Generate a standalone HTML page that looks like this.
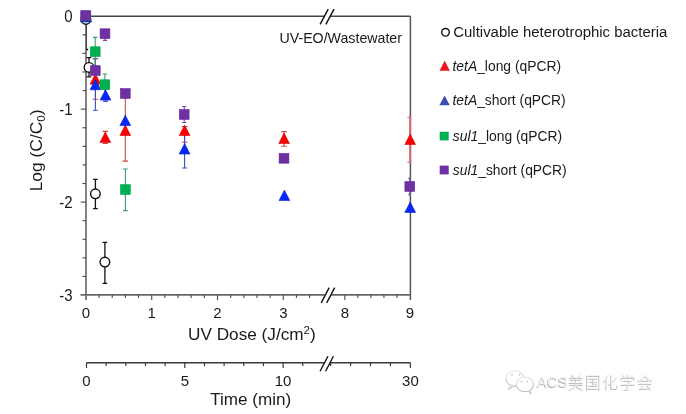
<!DOCTYPE html><html><head><meta charset="utf-8"><title>UV-EO/Wastewater</title><style>
html,body{margin:0;padding:0;background:#fff;width:686px;height:414px;overflow:hidden;position:relative}
svg{display:block;will-change:transform}
text{font-family:'Liberation Sans', Arial, sans-serif;fill:#1a1a1a}
.wm{font-family:"Liberation Sans","Noto Sans CJK SC",sans-serif}
</style></head><body>
<svg width="686" height="414" viewBox="0 0 686 414">
<g fill="none">
<line x1="86.0" y1="16.3" x2="86.0" y2="300.09999999999997" stroke="#6c6c6c" stroke-width="1.7"/>
<line x1="86.0" y1="16.3" x2="324.2" y2="16.3" stroke="#464646" stroke-width="1.5"/>
<line x1="330.0" y1="16.3" x2="410.4" y2="16.3" stroke="#464646" stroke-width="1.5"/>
<line x1="410.4" y1="16.3" x2="410.4" y2="300.09999999999997" stroke="#555" stroke-width="1.5"/>
<line x1="80.5" y1="294.9" x2="324.6" y2="294.9" stroke="#686868" stroke-width="1.7"/>
<line x1="331.4" y1="294.9" x2="410.4" y2="294.9" stroke="#686868" stroke-width="1.7"/>
</g>
<g stroke="#111" stroke-width="1.4" fill="none">
<line x1="320.10" y1="24.30" x2="328.20" y2="9.10"/><line x1="325.90" y1="24.30" x2="334.00" y2="9.10"/>
<line x1="321.20" y1="302.80" x2="329.20" y2="287.60"/><line x1="326.70" y1="302.80" x2="334.70" y2="287.60"/>
</g>
<g stroke="#505050" stroke-width="1.15">
<line x1="80.8" y1="16.20" x2="86.0" y2="16.20"/>
<line x1="82.4" y1="34.79" x2="86.0" y2="34.79"/>
<line x1="82.4" y1="53.38" x2="86.0" y2="53.38"/>
<line x1="82.4" y1="71.97" x2="86.0" y2="71.97"/>
<line x1="82.4" y1="90.56" x2="86.0" y2="90.56"/>
<line x1="80.8" y1="109.15" x2="86.0" y2="109.15"/>
<line x1="82.4" y1="127.74" x2="86.0" y2="127.74"/>
<line x1="82.4" y1="146.33" x2="86.0" y2="146.33"/>
<line x1="82.4" y1="164.92" x2="86.0" y2="164.92"/>
<line x1="82.4" y1="183.51" x2="86.0" y2="183.51"/>
<line x1="80.8" y1="202.10" x2="86.0" y2="202.10"/>
<line x1="82.4" y1="220.69" x2="86.0" y2="220.69"/>
<line x1="82.4" y1="239.28" x2="86.0" y2="239.28"/>
<line x1="82.4" y1="257.87" x2="86.0" y2="257.87"/>
<line x1="82.4" y1="276.46" x2="86.0" y2="276.46"/>
<line x1="99.06" y1="294.9" x2="99.06" y2="297.9"/>
<line x1="112.22" y1="294.9" x2="112.22" y2="297.9"/>
<line x1="125.38" y1="294.9" x2="125.38" y2="297.9"/>
<line x1="138.54" y1="294.9" x2="138.54" y2="297.9"/>
<line x1="151.70" y1="294.9" x2="151.70" y2="300.09999999999997"/>
<line x1="164.86" y1="294.9" x2="164.86" y2="297.9"/>
<line x1="178.02" y1="294.9" x2="178.02" y2="297.9"/>
<line x1="191.18" y1="294.9" x2="191.18" y2="297.9"/>
<line x1="204.34" y1="294.9" x2="204.34" y2="297.9"/>
<line x1="217.50" y1="294.9" x2="217.50" y2="300.09999999999997"/>
<line x1="230.66" y1="294.9" x2="230.66" y2="297.9"/>
<line x1="243.82" y1="294.9" x2="243.82" y2="297.9"/>
<line x1="256.98" y1="294.9" x2="256.98" y2="297.9"/>
<line x1="270.14" y1="294.9" x2="270.14" y2="297.9"/>
<line x1="283.30" y1="294.9" x2="283.30" y2="300.09999999999997"/>
<line x1="296.46" y1="294.9" x2="296.46" y2="297.9"/>
<line x1="309.62" y1="294.9" x2="309.62" y2="297.9"/>
<line x1="344.80" y1="294.9" x2="344.80" y2="300.09999999999997"/>
<line x1="357.84" y1="294.9" x2="357.84" y2="297.9"/>
<line x1="370.88" y1="294.9" x2="370.88" y2="297.9"/>
<line x1="383.92" y1="294.9" x2="383.92" y2="297.9"/>
<line x1="396.96" y1="294.9" x2="396.96" y2="297.9"/>
</g>
<g font-size="15" text-anchor="end">
<text transform="translate(72.7,22.3) scale(1,1.1)">0</text>
<text transform="translate(72.7,115.0) scale(1,1.1)">-1</text>
<text transform="translate(72.7,207.85) scale(1,1.1)">-2</text>
<text transform="translate(72.7,301.45) scale(1,1.1)">-3</text>
</g>
<g font-size="15" text-anchor="middle">
<text x="85.9" y="318.4">0</text>
<text x="151.7" y="318.4">1</text>
<text x="217.5" y="318.4">2</text>
<text x="283.3" y="318.4">3</text>
<text x="344.8" y="318.4">8</text>
<text x="410.0" y="318.4">9</text>
</g>
<text x="251.9" y="339.6" font-size="17.2" text-anchor="middle">UV Dose (J/cm<tspan font-size="11.5" dy="-5.2">2</tspan><tspan dy="5.2">)</tspan></text>
<text x="250.7" y="404.8" font-size="17.1" text-anchor="middle">Time (min)</text>
<text transform="translate(41.9,191.3) rotate(-90)" font-size="17.4">Log (C/C<tspan font-size="11.7" dy="3.5">0</tspan><tspan dy="-3.5">)</tspan></text>
<text x="279.5" y="43.1" font-size="14.2">UV-EO/Wastewater</text>
<g stroke="#3a3a3a" stroke-width="1.4" fill="none">
<line x1="86.5" y1="362.7" x2="324.0" y2="362.7"/>
<line x1="330.8" y1="362.7" x2="410.4" y2="362.7"/>
</g>
<g stroke="#3a3a3a" stroke-width="1.2">
<line x1="86.50" y1="362.7" x2="86.50" y2="368.0"/>
<line x1="106.16" y1="362.7" x2="106.16" y2="366.09999999999997"/>
<line x1="125.82" y1="362.7" x2="125.82" y2="366.09999999999997"/>
<line x1="145.48" y1="362.7" x2="145.48" y2="366.09999999999997"/>
<line x1="165.14" y1="362.7" x2="165.14" y2="366.09999999999997"/>
<line x1="184.80" y1="362.7" x2="184.80" y2="368.0"/>
<line x1="204.46" y1="362.7" x2="204.46" y2="366.09999999999997"/>
<line x1="224.12" y1="362.7" x2="224.12" y2="366.09999999999997"/>
<line x1="243.78" y1="362.7" x2="243.78" y2="366.09999999999997"/>
<line x1="263.44" y1="362.7" x2="263.44" y2="366.09999999999997"/>
<line x1="283.10" y1="362.7" x2="283.10" y2="368.0"/>
<line x1="302.76" y1="362.7" x2="302.76" y2="366.09999999999997"/>
<line x1="330.60" y1="362.7" x2="330.60" y2="366.09999999999997"/>
<line x1="350.55" y1="362.7" x2="350.55" y2="366.09999999999997"/>
<line x1="370.50" y1="362.7" x2="370.50" y2="366.09999999999997"/>
<line x1="390.45" y1="362.7" x2="390.45" y2="366.09999999999997"/>
<line x1="410.40" y1="362.7" x2="410.40" y2="368.0"/>
</g>
<g stroke="#111" stroke-width="1.4" fill="none">
<line x1="320.10" y1="371.20" x2="327.90" y2="356.20"/><line x1="325.60" y1="371.20" x2="333.40" y2="356.20"/>
</g>
<g font-size="15" text-anchor="middle">
<text x="86.5" y="385.8">0</text>
<text x="184.8" y="385.8">5</text>
<text x="283.1" y="385.8">10</text>
<text x="410.4" y="385.8">30</text>
</g>
<defs><clipPath id="pc"><rect x="86.0" y="16.3" width="324.4" height="278.59999999999997"/></clipPath></defs>
<g clip-path="url(#pc)">
<line x1="85.90" y1="-11.00" x2="85.90" y2="49.50" stroke="#111" stroke-width="1.3"/><line x1="83.60" y1="-11.00" x2="88.20" y2="-11.00" stroke="#111" stroke-width="1.3"/><line x1="83.60" y1="49.50" x2="88.20" y2="49.50" stroke="#111" stroke-width="1.3"/>
<line x1="89.00" y1="57.60" x2="89.00" y2="76.80" stroke="#111" stroke-width="1.3"/><line x1="86.70" y1="57.60" x2="91.30" y2="57.60" stroke="#111" stroke-width="1.3"/><line x1="86.70" y1="76.80" x2="91.30" y2="76.80" stroke="#111" stroke-width="1.3"/>
<line x1="95.40" y1="179.30" x2="95.40" y2="208.60" stroke="#111" stroke-width="1.3"/><line x1="93.10" y1="179.30" x2="97.70" y2="179.30" stroke="#111" stroke-width="1.3"/><line x1="93.10" y1="208.60" x2="97.70" y2="208.60" stroke="#111" stroke-width="1.3"/>
<line x1="104.90" y1="242.30" x2="104.90" y2="283.40" stroke="#111" stroke-width="1.3"/><line x1="102.60" y1="242.30" x2="107.20" y2="242.30" stroke="#111" stroke-width="1.3"/><line x1="102.60" y1="283.40" x2="107.20" y2="283.40" stroke="#111" stroke-width="1.3"/>
<line x1="95.40" y1="58.70" x2="95.40" y2="99.30" stroke="#d04848" stroke-width="1.1"/><line x1="92.60" y1="58.70" x2="98.20" y2="58.70" stroke="#d04848" stroke-width="1.1"/><line x1="92.60" y1="99.30" x2="98.20" y2="99.30" stroke="#d04848" stroke-width="1.1"/>
<line x1="105.30" y1="131.40" x2="105.30" y2="143.50" stroke="#d04848" stroke-width="1.1"/><line x1="102.50" y1="131.40" x2="108.10" y2="131.40" stroke="#d04848" stroke-width="1.1"/><line x1="102.50" y1="143.50" x2="108.10" y2="143.50" stroke="#d04848" stroke-width="1.1"/>
<line x1="125.30" y1="97.50" x2="125.30" y2="161.10" stroke="#d04848" stroke-width="1.1"/><line x1="122.50" y1="97.50" x2="128.10" y2="97.50" stroke="#d04848" stroke-width="1.1"/><line x1="122.50" y1="161.10" x2="128.10" y2="161.10" stroke="#d04848" stroke-width="1.1"/>
<line x1="184.60" y1="126.50" x2="184.60" y2="142.20" stroke="#d04848" stroke-width="1.1"/><line x1="181.80" y1="126.50" x2="187.40" y2="126.50" stroke="#d04848" stroke-width="1.1"/><line x1="181.80" y1="142.20" x2="187.40" y2="142.20" stroke="#d04848" stroke-width="1.1"/>
<line x1="284.10" y1="131.60" x2="284.10" y2="146.30" stroke="#d04848" stroke-width="1.1"/><line x1="281.30" y1="131.60" x2="286.90" y2="131.60" stroke="#d04848" stroke-width="1.1"/><line x1="281.30" y1="146.30" x2="286.90" y2="146.30" stroke="#d04848" stroke-width="1.1"/>
<line x1="409.90" y1="117.20" x2="409.90" y2="162.30" stroke="#d86a72" stroke-width="1.1"/><line x1="407.40" y1="117.20" x2="412.40" y2="117.20" stroke="#d86a72" stroke-width="1.1"/><line x1="407.40" y1="162.30" x2="412.40" y2="162.30" stroke="#d86a72" stroke-width="1.1"/>
<line x1="95.40" y1="58.70" x2="95.40" y2="110.30" stroke="#3a4cc8" stroke-width="1.1"/><line x1="92.90" y1="58.70" x2="97.90" y2="58.70" stroke="#3a4cc8" stroke-width="1.1"/><line x1="92.90" y1="110.30" x2="97.90" y2="110.30" stroke="#3a4cc8" stroke-width="1.1"/>
<line x1="105.50" y1="89.00" x2="105.50" y2="101.40" stroke="#3a4cc8" stroke-width="1.1"/><line x1="103.00" y1="89.00" x2="108.00" y2="89.00" stroke="#3a4cc8" stroke-width="1.1"/><line x1="103.00" y1="101.40" x2="108.00" y2="101.40" stroke="#3a4cc8" stroke-width="1.1"/>
<line x1="184.60" y1="130.00" x2="184.60" y2="168.00" stroke="#3a4cc8" stroke-width="1.1"/><line x1="182.10" y1="130.00" x2="187.10" y2="130.00" stroke="#3a4cc8" stroke-width="1.1"/><line x1="182.10" y1="168.00" x2="187.10" y2="168.00" stroke="#3a4cc8" stroke-width="1.1"/>
<line x1="95.20" y1="37.40" x2="95.20" y2="66.00" stroke="#3a9a72" stroke-width="1.1"/><line x1="92.90" y1="37.40" x2="97.50" y2="37.40" stroke="#3a9a72" stroke-width="1.1"/><line x1="92.90" y1="66.00" x2="97.50" y2="66.00" stroke="#3a9a72" stroke-width="1.1"/>
<line x1="104.90" y1="74.00" x2="104.90" y2="95.50" stroke="#3a9a72" stroke-width="1.1"/><line x1="102.60" y1="74.00" x2="107.20" y2="74.00" stroke="#3a9a72" stroke-width="1.1"/><line x1="102.60" y1="95.50" x2="107.20" y2="95.50" stroke="#3a9a72" stroke-width="1.1"/>
<line x1="125.40" y1="169.00" x2="125.40" y2="210.60" stroke="#3a9a72" stroke-width="1.1"/><line x1="123.10" y1="169.00" x2="127.70" y2="169.00" stroke="#3a9a72" stroke-width="1.1"/><line x1="123.10" y1="210.60" x2="127.70" y2="210.60" stroke="#3a9a72" stroke-width="1.1"/>
<line x1="105.00" y1="33.70" x2="105.00" y2="40.40" stroke="#7444a4" stroke-width="1.1"/><line x1="102.90" y1="33.70" x2="107.10" y2="33.70" stroke="#7444a4" stroke-width="1.1"/><line x1="102.90" y1="40.40" x2="107.10" y2="40.40" stroke="#7444a4" stroke-width="1.1"/>
<line x1="184.20" y1="106.50" x2="184.20" y2="122.50" stroke="#7444a4" stroke-width="1.1"/><line x1="182.10" y1="106.50" x2="186.30" y2="106.50" stroke="#7444a4" stroke-width="1.1"/><line x1="182.10" y1="122.50" x2="186.30" y2="122.50" stroke="#7444a4" stroke-width="1.1"/>
<line x1="409.90" y1="178.30" x2="409.90" y2="194.80" stroke="#7a5aa0" stroke-width="1.1"/><line x1="407.90" y1="178.30" x2="411.90" y2="178.30" stroke="#7a5aa0" stroke-width="1.1"/><line x1="407.90" y1="194.80" x2="411.90" y2="194.80" stroke="#7a5aa0" stroke-width="1.1"/>
</g>
<line x1="410.2" y1="117.2" x2="410.2" y2="162.3" stroke="#d86a72" stroke-width="2.0"/>
<line x1="410.2" y1="178.3" x2="410.2" y2="194.8" stroke="#7a5aa0" stroke-width="1.8"/>
<circle cx="85.90" cy="19.40" r="4.8" fill="#fff" stroke="#111" stroke-width="1.4"/>
<circle cx="89.00" cy="67.40" r="4.8" fill="#fff" stroke="#111" stroke-width="1.4"/>
<circle cx="95.40" cy="193.80" r="4.8" fill="#fff" stroke="#111" stroke-width="1.4"/>
<circle cx="104.90" cy="262.10" r="4.8" fill="#fff" stroke="#111" stroke-width="1.4"/>
<polygon points="85.90,11.00 91.30,21.40 80.50,21.40" fill="#fa0000" stroke="#d40808" stroke-width="0.6" stroke-linejoin="miter"/>
<polygon points="95.40,73.80 100.80,84.20 90.00,84.20" fill="#fa0000" stroke="#d40808" stroke-width="0.6" stroke-linejoin="miter"/>
<polygon points="105.30,132.00 110.70,142.40 99.90,142.40" fill="#fa0000" stroke="#d40808" stroke-width="0.6" stroke-linejoin="miter"/>
<polygon points="125.30,125.10 130.70,135.50 119.90,135.50" fill="#fa0000" stroke="#d40808" stroke-width="0.6" stroke-linejoin="miter"/>
<polygon points="184.60,125.10 190.00,135.50 179.20,135.50" fill="#fa0000" stroke="#d40808" stroke-width="0.6" stroke-linejoin="miter"/>
<polygon points="284.10,133.10 289.50,143.50 278.70,143.50" fill="#fa0000" stroke="#d40808" stroke-width="0.6" stroke-linejoin="miter"/>
<polygon points="410.20,134.10 415.60,144.50 404.80,144.50" fill="#fa0000" stroke="#d40808" stroke-width="0.6" stroke-linejoin="miter"/>
<polygon points="86.20,11.50 91.60,21.90 80.80,21.90" fill="#0528fa" stroke="#0a18c8" stroke-width="0.6" stroke-linejoin="miter"/>
<polygon points="95.40,79.40 100.80,89.80 90.00,89.80" fill="#0528fa" stroke="#0a18c8" stroke-width="0.6" stroke-linejoin="miter"/>
<polygon points="105.50,89.70 110.90,100.10 100.10,100.10" fill="#0528fa" stroke="#0a18c8" stroke-width="0.6" stroke-linejoin="miter"/>
<polygon points="125.30,115.20 130.70,125.60 119.90,125.60" fill="#0528fa" stroke="#0a18c8" stroke-width="0.6" stroke-linejoin="miter"/>
<polygon points="184.60,143.60 190.00,154.00 179.20,154.00" fill="#0528fa" stroke="#0a18c8" stroke-width="0.6" stroke-linejoin="miter"/>
<polygon points="284.40,190.15 289.80,200.55 279.00,200.55" fill="#0528fa" stroke="#0a18c8" stroke-width="0.6" stroke-linejoin="miter"/>
<polygon points="410.20,202.00 415.60,212.40 404.80,212.40" fill="#0528fa" stroke="#0a18c8" stroke-width="0.6" stroke-linejoin="miter"/>
<rect x="81.00" y="11.10" width="9.80" height="9.80" fill="#00b050" stroke="#00a048" stroke-width="0.6"/>
<rect x="90.30" y="46.80" width="9.80" height="9.80" fill="#00b050" stroke="#00a048" stroke-width="0.6"/>
<rect x="100.00" y="79.80" width="9.80" height="9.80" fill="#00b050" stroke="#00a048" stroke-width="0.6"/>
<rect x="120.50" y="184.70" width="9.80" height="9.80" fill="#00b050" stroke="#00a048" stroke-width="0.6"/>
<rect x="80.80" y="10.70" width="9.80" height="9.80" fill="#6e30a2" stroke="#62289a" stroke-width="0.6"/>
<rect x="90.40" y="65.70" width="9.80" height="9.80" fill="#6e30a2" stroke="#62289a" stroke-width="0.6"/>
<rect x="100.10" y="28.80" width="9.80" height="9.80" fill="#6e30a2" stroke="#62289a" stroke-width="0.6"/>
<rect x="120.40" y="88.60" width="9.80" height="9.80" fill="#6e30a2" stroke="#62289a" stroke-width="0.6"/>
<rect x="179.30" y="109.60" width="9.80" height="9.80" fill="#6e30a2" stroke="#62289a" stroke-width="0.6"/>
<rect x="279.10" y="153.40" width="9.80" height="9.80" fill="#6e30a2" stroke="#62289a" stroke-width="0.6"/>
<rect x="404.90" y="181.60" width="9.80" height="9.80" fill="#6e30a2" stroke="#62289a" stroke-width="0.6"/>
<circle cx="445.5" cy="32.3" r="3.8" fill="#fff" stroke="#111" stroke-width="1.4"/>
<text x="453.3" y="36.6" font-size="14.93">Cultivable heterotrophic bacteria</text>
<polygon points="444.70,60.70 449.90,70.70 439.50,70.70" fill="#e8181e"/>
<text x="452.5" y="70.8" font-size="13.87"><tspan font-style="italic">tetA</tspan>_long (qPCR)</text>
<polygon points="444.60,95.40 449.80,105.20 439.40,105.20" fill="#3a50b0"/>
<text x="452.5" y="105.3" font-size="13.87"><tspan font-style="italic">tetA</tspan>_short (qPCR)</text>
<rect x="439.7" y="131.8" width="9" height="8.6" fill="#00b050"/>
<text x="452.8" y="140.9" font-size="13.85"><tspan font-style="italic">sul1</tspan>_long (qPCR)</text>
<rect x="439.7" y="165.6" width="9" height="8.8" fill="#6e30a2"/>
<text x="452.8" y="175.0" font-size="13.85"><tspan font-style="italic">sul1</tspan>_short (qPCR)</text>
<defs><linearGradient id="wg" x1="0" y1="0" x2="0.3" y2="1"><stop offset="0" stop-color="#ececec"/><stop offset="1" stop-color="#bcbcbc"/></linearGradient></defs>
<g fill="none" stroke="url(#wg)" stroke-width="1.1">
<ellipse cx="515.0" cy="378.6" rx="9.1" ry="7.8"/>
<path d="M510.5 385.6 L508.8 389.0 L513.5 386.6"/>
<ellipse cx="524.9" cy="384.4" rx="8.5" ry="7.4" fill="#fff"/>
<path d="M528.6 391.0 L530.6 393.4 L530.4 389.8"/>
</g>
<g fill="#c4c4c4"><circle cx="512.1" cy="374.6" r="0.95"/><circle cx="519.6" cy="374.6" r="0.95"/><circle cx="521.6" cy="381.6" r="0.95"/><circle cx="527.4" cy="381.6" r="0.95"/></g>
</svg>
<div class="wm" style="position:absolute;left:537px;top:371px;height:22px;line-height:22px;white-space:nowrap;color:#efefef;text-shadow:-0.6px 0.6px 0 #b0b0b0, 0.4px -0.4px 0 #ffffff;"><span style="font-size:14.9px">ACS</span><span style="font-size:16px;letter-spacing:1.25px;margin-left:0.6px;font-weight:300;position:relative;top:0.6px">美国化学会</span></div>
</body></html>
